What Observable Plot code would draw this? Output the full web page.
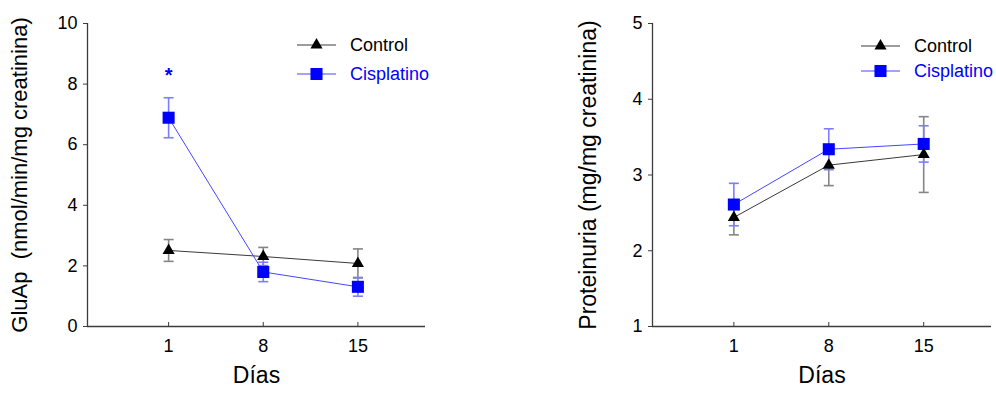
<!DOCTYPE html>
<html>
<head>
<meta charset="utf-8">
<script src="https://cdn.jsdelivr.net/npm/d3@7"></script>
<script src="https://cdn.jsdelivr.net/npm/@observablehq/plot@0.6"></script>
<style>
  html, body { margin: 0; padding: 0; background: #fff; }
  #wrap { position: relative; width: 996px; height: 393px; font-family: "Liberation Sans", Arial, sans-serif; }
  #left, #right, .legend { position: absolute; top: 0; }
  #left { left: 0; }
  #right { left: 498px; }
  .legend text { font-family: "Liberation Sans", Arial, sans-serif; font-size: 18px; }
</style>
</head>
<body>
<div id="wrap">
  <div id="left"></div>
  <div id="right"></div>
</div>
<script>
// Sampling days
const days = [1, 8, 15];
const dayTicks = [1, 8, 15];

// GluAp (nmol/min/mg creatinina): mean and error
const gluControl = [2.51, 2.31, 2.08];
const gluControlErr = [0.36, 0.30, 0.48];
const gluCis = [6.89, 1.80, 1.31];
const gluCisErr = [0.66, 0.32, 0.31];
const gluTicks = [0, 2, 4, 6, 8, 10];

// Proteinuria (mg/mg creatinina): mean and error
const protControl = [2.44, 3.13, 3.27];
const protControlErr = [0.23, 0.27, 0.50];
const protCis = [2.61, 3.34, 3.41];
const protCisErr = [0.28, 0.27, 0.24];
const protTicks = [1, 2, 3, 4, 5];

// Significant difference flags (Cisplatino vs Control)
const gluSignificant = [true, false, false];

const seriesNames = ["Control", "Cisplatino"];

const BLUE = "#0000ff";
const BLUE_LINE = "#4646ff";
const BLUE_ERR = "#7d7dff";
const BLACK = "#000000";
const BLACK_LINE = "#3a3a3a";
const GRAY_ERR = "#858585";
const AXIS = "#3c3c3c";
const FONT = "'Liberation Sans', Arial, sans-serif";

// Horizontal cap for error bars, used as a custom dot symbol
const capSymbol = {
  draw(context, size) {
    const h = Math.sqrt(size / Math.PI);
    context.moveTo(-h, 0);
    context.lineTo(h, 0);
  }
};

function rows(values, errs, name) {
  return days.map((d, i) => ({day: d, value: values[i], lo: values[i] - errs[i], hi: values[i] + errs[i], series: name}));
}

function panel({control, cis, yDomain, yTicks, yLabel, yLabelSize, yLabelOffset, width, marginLeft, marginRight, sig}) {
  const height = 393, marginTop = 23, marginBottom = 67;
  const plotH = height - marginTop - marginBottom;
  const xDomain = [-5, 20];
  const errMarks = (data, color) => [
    Plot.ruleX(data, {x: "day", y1: "lo", y2: "hi", stroke: color, strokeWidth: 1.6}),
    Plot.dot(data, {x: "day", y: "hi", symbol: capSymbol, r: 5, stroke: color, strokeWidth: 1.6, fill: "none"}),
    Plot.dot(data, {x: "day", y: "lo", symbol: capSymbol, r: 5, stroke: color, strokeWidth: 1.6, fill: "none"})
  ];
  const marks = [
    Plot.ruleY([yDomain[0]], {stroke: AXIS, strokeWidth: 1.3}),
    Plot.ruleX([xDomain[0]], {stroke: AXIS, strokeWidth: 1.3}),
    Plot.tickX(dayTicks, {x: d => d, stroke: AXIS, strokeWidth: 1, insetTop: plotH - 4}),
    Plot.axisY({ticks: yTicks, tickFormat: d3.format("d"), tickSize: 4, tickPadding: 6, fontSize: 18, stroke: AXIS, fill: BLACK, label: null}),
    Plot.axisX({ticks: dayTicks, tickFormat: d3.format("d"), tickSize: 0, tickPadding: 13, fontSize: 18, fill: BLACK, label: null}),
    ...errMarks(control, GRAY_ERR),
    ...errMarks(cis, BLUE_ERR),
    Plot.line(control, {x: "day", y: "value", stroke: BLACK_LINE, strokeWidth: 1}),
    Plot.line(cis, {x: "day", y: "value", stroke: BLUE_LINE, strokeWidth: 1}),
    Plot.dot(cis, {x: "day", y: "value", symbol: "square", r: 6.8, fill: BLUE, stroke: "none"}),
    Plot.dot(control, {x: "day", y: "value", symbol: "triangle", r: 4.5, fill: BLACK, stroke: "none"}),
    Plot.text([yLabel], {frameAnchor: "left", textAnchor: "middle", rotate: -90, dx: -yLabelOffset, fontSize: yLabelSize, fill: BLACK}),
    Plot.text(["Días"], {frameAnchor: "bottom", textAnchor: "middle", dy: 56, fontSize: 23, fill: BLACK})
  ];
  if (sig) {
    const flagged = cis.filter((d, i) => sig[i]);
    marks.push(Plot.text(flagged, {x: "day", y: "hi", text: () => "*", dy: -22, fontSize: 20, fontWeight: "bold", fill: BLUE}));
  }
  return Plot.plot({
    width, height, marginTop, marginBottom, marginLeft, marginRight,
    style: {fontFamily: FONT, background: "transparent", overflow: "visible"},
    x: {domain: xDomain, axis: null},
    y: {domain: yDomain, axis: null},
    marks
  });
}

function legend(x, y, gap) {
  const svg = d3.create("svg").attr("class", "legend").attr("width", 160).attr("height", 60)
    .style("left", `${x}px`).style("top", `${y}px`).style("overflow", "visible");
  const items = [
    {name: seriesNames[0], line: BLACK_LINE, fill: BLACK, text: BLACK, sym: d3.symbolTriangle, size: Math.PI * 4.5 * 4.5},
    {name: seriesNames[1], line: BLUE_LINE, fill: BLUE, text: BLUE, sym: d3.symbolSquare, size: Math.PI * 6.8 * 6.8}
  ];
  items.forEach((it, i) => {
    const g = svg.append("g").attr("transform", `translate(0,${i * gap})`);
    g.append("line").attr("x1", 0).attr("x2", 39).attr("y1", 0).attr("y2", 0).attr("stroke", it.line).attr("stroke-width", 1);
    g.append("path").attr("d", d3.symbol(it.sym, it.size)()).attr("transform", "translate(19.5,0)").attr("fill", it.fill);
    g.append("text").attr("x", 53).attr("y", 0).attr("dy", "0.35em").attr("fill", it.text).text(it.name);
  });
  return svg.node();
}

const left = panel({
  control: rows(gluControl, gluControlErr, seriesNames[0]),
  cis: rows(gluCis, gluCisErr, seriesNames[1]),
  yDomain: [0, 10], yTicks: gluTicks,
  yLabel: "GluAp  (nmol/min/mg creatinina)", yLabelSize: 22, yLabelOffset: 68,
  width: 490, marginLeft: 87, marginRight: 65,
  sig: gluSignificant
});
document.getElementById("left").appendChild(left);

const right = panel({
  control: rows(protControl, protControlErr, seriesNames[0]),
  cis: rows(protCis, protCisErr, seriesNames[1]),
  yDomain: [1, 5], yTicks: protTicks,
  yLabel: "Proteinuria (mg/mg creatinina)", yLabelSize: 23, yLabelOffset: 64,
  width: 498, marginLeft: 154, marginRight: 5
});
document.getElementById("right").appendChild(right);

const wrap = document.getElementById("wrap");
wrap.appendChild(legend(297, 45, 29));
wrap.appendChild(legend(861, 46, 25));
</script>
</body>
</html>
